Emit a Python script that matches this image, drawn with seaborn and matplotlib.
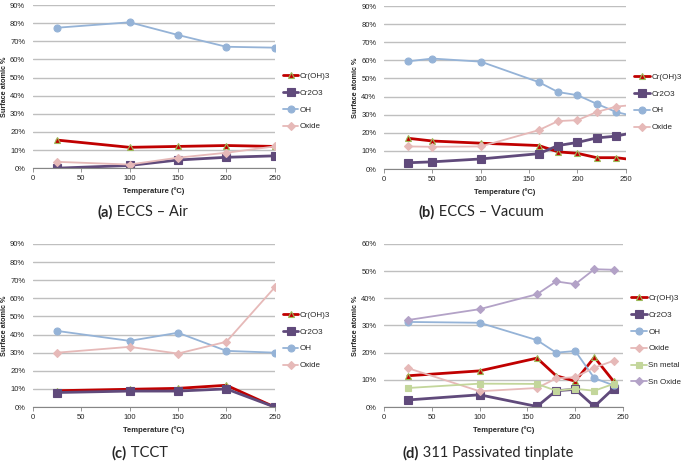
import pandas as pd
import matplotlib.pyplot as plt
import seaborn as sns
from matplotlib.ticker import PercentFormatter
from matplotlib.offsetbox import TextArea, HPacker, AnchoredOffsetbox

# (a) ECCS - Air
temp_a = [25, 100, 150, 200, 250]
croh3_a = [15.5, 11.5, 12.0, 12.5, 12.0]
cr2o3_a = [0.0, 1.5, 4.5, 6.0, 6.8]
oh_a = [77.5, 80.5, 73.5, 67.0, 66.5]
oxide_a = [3.5, 2.0, 5.8, 8.5, 12.0]

# (b) ECCS - Vacuum (last point lies past the axis end)
temp_b = [25, 50, 100, 160, 180, 200, 220, 240, 260]
croh3_b = [17.0, 15.5, 14.3, 13.0, 9.5, 8.7, 6.3, 6.3, 5.0]
cr2o3_b = [3.5, 4.0, 5.6, 8.5, 13.0, 14.7, 17.2, 18.2, 20.4]
oh_b = [59.5, 61.0, 59.3, 48.0, 42.5, 40.8, 36.0, 31.5, 29.0]
oxide_b = [12.5, 12.3, 12.5, 21.5, 26.5, 27.0, 31.5, 34.5, 35.5]

# (c) TCCT
temp_c = [25, 100, 150, 200, 250]
croh3_c = [9.0, 9.8, 10.3, 12.0, 0.0]
cr2o3_c = [8.0, 8.8, 8.8, 10.0, 0.0]
oh_c = [42.0, 36.5, 41.0, 31.0, 30.0]
oxide_c = [30.0, 33.2, 29.5, 36.0, 66.0]

# (d) 311 Passivated tinplate
temp_d = [25, 100, 160, 180, 200, 220, 240]
croh3_d = [11.5, 13.3, 18.0, 11.5, 9.5, 18.3, 9.5]
cr2o3_d = [2.6, 4.5, 0.2, 6.0, 6.5, 0.2, 6.8]
oh_d = [31.3, 31.0, 24.6, 20.0, 20.6, 10.6, 8.0]
oxide_d = [14.3, 5.8, 7.0, 10.5, 11.0, 14.5, 17.0]
snmetal_d = [7.0, 8.6, 8.5, 6.0, 6.7, 6.0, 8.5]
snoxide_d = [32.0, 36.0, 41.5, 46.2, 45.2, 50.7, 50.5]

x_ticks = [0, 50, 100, 150, 200, 250]

styles = {
    'Cr(OH)3': dict(color='#C00000', marker='^', lw=2.0, ms=5, mec='#9BBB59', mfc='#C00000'),
    'Cr2O3': dict(color='#604A7B', marker='s', lw=2.0, ms=6, mec='#604A7B', mfc='#604A7B'),
    'OH': dict(color='#95B3D7', marker='o', lw=1.3, ms=5, mec='#95B3D7', mfc='#95B3D7'),
    'Oxide': dict(color='#E6B9B8', marker='D', lw=1.3, ms=4, mec='#E6B9B8', mfc='#E6B9B8'),
    'Sn metal': dict(color='#C3D69B', marker='s', lw=1.3, ms=5, mec='#C3D69B', mfc='#C3D69B'),
    'Sn Oxide': dict(color='#B3A2C7', marker='D', lw=1.3, ms=4, mec='#B3A2C7', mfc='#B3A2C7'),
}

panels = [
    dict(pos=[0.048, 0.636, 0.353, 0.353], x=temp_a, ymax=90, cap=('(a)', ' ECCS \u2013 Air'), capxy=(143, 212),
         series={'Cr(OH)3': croh3_a, 'Cr2O3': cr2o3_a, 'OH': oh_a, 'Oxide': oxide_a}),
    dict(pos=[0.5606, 0.634, 0.353, 0.353], x=temp_b, ymax=90, cap=('(b)', ' ECCS \u2013 Vacuum'), capxy=(481, 212),
         series={'Cr(OH)3': croh3_b, 'Cr2O3': cr2o3_b, 'OH': oh_b, 'Oxide': oxide_b}),
    dict(pos=[0.048, 0.119, 0.353, 0.353], x=temp_c, ymax=90, cap=('(c)', ' TCCT'), capxy=(140, 453),
         series={'Cr(OH)3': croh3_c, 'Cr2O3': cr2o3_c, 'OH': oh_c, 'Oxide': oxide_c}),
    dict(pos=[0.5606, 0.119, 0.349, 0.353], x=temp_d, ymax=60, cap=('(d)', ' 311 Passivated tinplate'), capxy=(488, 453),
         series={'Cr(OH)3': croh3_d, 'Cr2O3': cr2o3_d, 'OH': oh_d, 'Oxide': oxide_d,
                 'Sn metal': snmetal_d, 'Sn Oxide': snoxide_d}),
]

sns.set_style('white')
plt.rcParams['font.family'] = ['Liberation Sans', 'DejaVu Sans']

W, H = 685, 462
fig = plt.figure(figsize=(W / 100, H / 100), dpi=100)

for p in panels:
    ax = fig.add_axes(p['pos'])
    for name, vals in p['series'].items():
        st = styles[name]
        sns.lineplot(x=p['x'], y=vals, ax=ax, color=st['color'], marker=st['marker'],
                     linewidth=st['lw'], markersize=st['ms'], markeredgecolor=st['mec'],
                     markerfacecolor=st['mfc'], markeredgewidth=0.8, label=name)
    ax.set_xlim(0, 250)
    ax.set_ylim(0, p['ymax'])
    ax.set_xticks(x_ticks)
    ax.set_yticks(range(0, p['ymax'] + 1, 10))
    ax.yaxis.set_major_formatter(PercentFormatter(decimals=0))
    ax.grid(axis='y', color='#BFBFBF', lw=1.0)
    ax.set_axisbelow(True)
    for s in ['top', 'right', 'left']:
        ax.spines[s].set_visible(False)
    ax.spines['bottom'].set_color('#868686')
    ax.spines['bottom'].set_linewidth(0.8)
    ax.tick_params(axis='x', bottom=True, length=3, width=0.6, color='#868686', labelsize=5.5, pad=2)
    ax.tick_params(axis='y', left=False, labelsize=5.5, pad=2)
    ax.set_xlabel('Temperature (\u00baC)', fontsize=5.5, fontweight='bold', labelpad=4)
    ax.set_ylabel('Surface atomic %', fontsize=5.2, fontweight='bold')
    ax.yaxis.set_label_coords(-25 / 242, 0.5)
    ax.legend(loc='center left', bbox_to_anchor=(1.035, 0.41), frameon=False, fontsize=5.8,
              handlelength=1.9, handletextpad=0.2, labelspacing=1.15, borderaxespad=0,
              borderpad=0)

    bold = TextArea(p['cap'][0], textprops=dict(fontsize=10.5, fontweight='bold', family='Lato'))
    rest = TextArea(p['cap'][1], textprops=dict(fontsize=10.5, family='Lato'))
    box = HPacker(children=[bold, rest], align='baseline', pad=0, sep=0)
    cx, cy = p['capxy']
    anc = AnchoredOffsetbox(loc='center', child=box, frameon=False, pad=0, borderpad=0,
                            bbox_to_anchor=(cx / W, 1 - cy / H), bbox_transform=fig.transFigure)
    fig.add_artist(anc)

fig.savefig('out.png', dpi=100)
